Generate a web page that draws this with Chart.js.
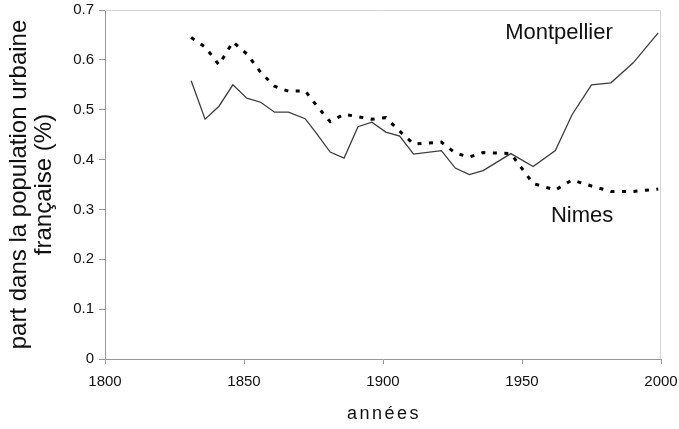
<!DOCTYPE html>
<html>
<head>
<meta charset="utf-8">
<script src="https://cdn.jsdelivr.net/npm/chart.js@4/dist/chart.umd.min.js"></script>
<style>
  html, body { margin: 0; padding: 0; background: #fff; }
  #wrap { width: 679px; height: 429px; }
</style>
</head>
<body>
<div id="wrap"><canvas id="chart" width="679" height="429"></canvas></div>
<script>
// Census years and share of French urban population (%)
const years = [1831, 1836, 1841, 1846, 1851, 1856, 1861, 1866, 1872, 1876, 1881, 1886, 1891, 1896,
               1901, 1906, 1911, 1921, 1926, 1931, 1936, 1946, 1954, 1962, 1968, 1975, 1982, 1990, 1999];
const montpellier = [0.558, 0.481, 0.507, 0.550, 0.523, 0.515, 0.495, 0.495, 0.482, 0.453, 0.415, 0.403, 0.466, 0.475,
                     0.455, 0.447, 0.411, 0.418, 0.383, 0.370, 0.378, 0.412, 0.386, 0.418, 0.490, 0.550, 0.554, 0.594, 0.654];
const nimes = [0.645, 0.626, 0.590, 0.636, 0.612, 0.575, 0.547, 0.537, 0.538, 0.509, 0.476, 0.491, 0.486, 0.481,
               0.484, 0.457, 0.431, 0.435, 0.413, 0.405, 0.414, 0.412, 0.352, 0.339, 0.359, 0.347, 0.336, 0.336, 0.341];
const xTicks = [1800, 1850, 1900, 1950, 2000];
const yTicks = [0, 0.1, 0.2, 0.3, 0.4, 0.5, 0.6, 0.7];

const labels = [
  { text: 'Montpellier', year: 1963.3, value: 0.654 },
  { text: 'Nimes', year: 1971.6, value: 0.287 }
];

const FONT = '"Liberation Sans", Arial, sans-serif';
const toPoints = vals => years.map((y, i) => ({ x: y, y: vals[i] }));

// light frame on top and right, series names, x title
const extras = {
  id: 'extras',
  afterDraw(chart) {
    const { ctx, chartArea: a, scales } = chart;
    ctx.save();
    ctx.strokeStyle = '#d4d4d4';
    ctx.lineWidth = 1;
    ctx.beginPath();
    ctx.moveTo(a.left, a.top + 0.5);
    ctx.lineTo(a.right - 0.5, a.top + 0.5);
    ctx.lineTo(a.right - 0.5, a.bottom);
    ctx.stroke();

    ctx.fillStyle = '#111';
    ctx.font = '22px ' + FONT;
    ctx.textAlign = 'center';
    ctx.textBaseline = 'middle';
    labels.forEach(l => {
      ctx.fillText(l.text, scales.x.getPixelForValue(l.year), scales.y.getPixelForValue(l.value));
    });

    // x axis title with spread letters
    ctx.font = '18px ' + FONT;
    ctx.letterSpacing = '2.5px';
    ctx.textBaseline = 'alphabetic';
    ctx.fillText('années', (a.left + a.right) / 2 + 1, 419);
    ctx.restore();
  }
};

new Chart(document.getElementById('chart'), {
  type: 'line',
  data: {
    datasets: [
      {
        label: 'Montpellier',
        data: toPoints(montpellier),
        borderColor: '#3c3c3c',
        borderWidth: 1.3,
        pointRadius: 0,
        tension: 0
      },
      {
        label: 'Nimes',
        data: toPoints(nimes),
        borderColor: '#000',
        borderWidth: 3,
        borderDash: [4, 7.5],
        pointRadius: 0,
        tension: 0
      }
    ]
  },
  options: {
    responsive: false,
    animation: false,
    devicePixelRatio: 1,
    layout: { padding: { top: 10, right: 18, left: 0, bottom: 0 } },
    plugins: { legend: { display: false }, tooltip: { enabled: false } },
    scales: {
      x: {
        type: 'linear',
        min: 1800,
        max: 2000,
        afterFit: s => { s.height = 70; s.paddingLeft = 0; s.paddingRight = 0; },
        afterBuildTicks: s => { s.ticks = xTicks.map(v => ({ value: v })); },
        grid: { drawOnChartArea: false, color: '#999', tickLength: 5 },
        border: { color: '#999' },
        ticks: {
          color: '#111',
          font: { family: FONT, size: 15 },
          padding: 9,
          maxRotation: 0,
          callback: v => String(v)
        }
      },
      y: {
        min: 0,
        max: 0.7,
        afterFit: s => { s.width = 105; s.paddingTop = 0; s.paddingBottom = 0; },
        afterBuildTicks: s => { s.ticks = yTicks.map(v => ({ value: v })); },
        grid: { drawOnChartArea: false, color: '#999', tickLength: 6 },
        border: { color: '#999' },
        ticks: {
          color: '#111',
          font: { family: FONT, size: 15 },
          padding: 5,
          callback: v => String(Math.round(v * 10) / 10)
        },
        title: {
          display: true,
          text: ['part dans la population urbaine', 'française (%)'],
          color: '#111',
          font: { family: FONT, size: 24, lineHeight: 1.05 },
          padding: { top: 7, bottom: 0 }
        }
      }
    }
  },
  plugins: [extras]
});
</script>
</body>
</html>
